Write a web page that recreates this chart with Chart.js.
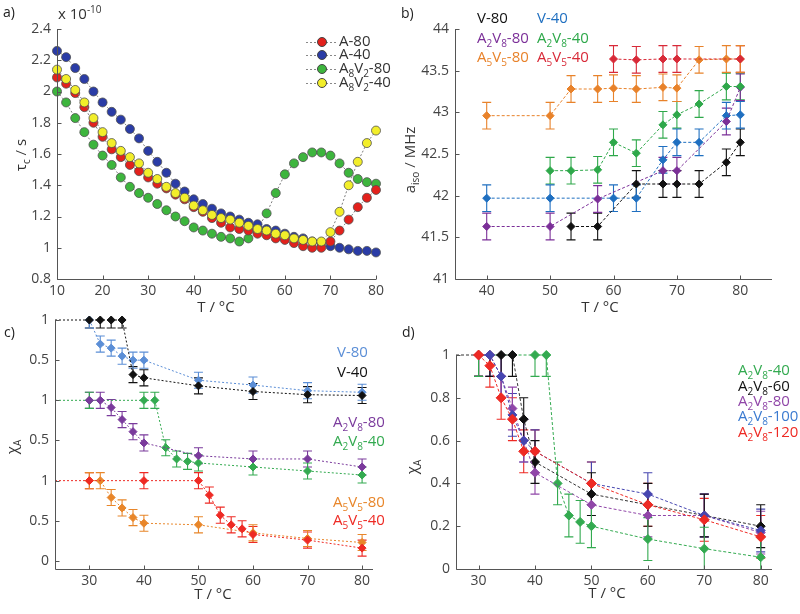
<!DOCTYPE html>
<html>
<head>
<meta charset="utf-8">
<script src="https://cdn.jsdelivr.net/npm/chart.js@4.4.1/dist/chart.umd.min.js"></script>
<style>
body { margin: 0; background: #fff; width: 800px; height: 614px; position: relative; overflow: hidden; }
canvas { position: absolute; top: 0; }
</style>
</head>
<body>
<canvas id="ca" width="400" height="614" style="left:0"></canvas>
<canvas id="cb" width="400" height="614" style="left:400px"></canvas>
<canvas id="cc" width="400" height="614" style="left:0"></canvas>
<canvas id="cd" width="400" height="614" style="left:400px"></canvas>
<script>
// ---- panel a: tau_c (x 1e-10 s) vs T
const aT = [10,12,14,16,18,20,22,24,26,28,30,32,34,36,38,40,42,44,46,48,50,52,54,56,58,60,62,64,66,68,70,72,74,76,78,80];
const aA80 = [2.09,2.05,1.99,1.90,1.80,1.71,1.63,1.58,1.53,1.49,1.45,1.41,1.38,1.34,1.31,1.26,1.23,1.19,1.16,1.13,1.12,1.11,1.09,1.08,1.06,1.05,1.03,1.01,1.00,1.00,1.04,1.11,1.18,1.26,1.32,1.37];
const aA40 = [2.26,2.22,2.15,2.08,2.00,1.93,1.87,1.82,1.76,1.70,1.62,1.55,1.48,1.41,1.36,1.31,1.28,1.25,1.22,1.20,1.18,1.16,1.15,1.12,1.11,1.09,1.07,1.06,1.04,1.03,1.01,1.00,0.99,0.98,0.98,0.97];
const aA8V2_80 = [2.00,1.93,1.83,1.74,1.66,1.59,1.53,1.45,1.39,1.35,1.32,1.28,1.24,1.20,1.17,1.13,1.11,1.09,1.07,1.06,1.04,1.06,1.12,1.22,1.35,1.47,1.54,1.58,1.61,1.61,1.59,1.54,1.48,1.44,1.42,1.41];
const aA8V2_40 = [2.14,2.08,2.01,1.93,1.83,1.74,1.67,1.62,1.58,1.54,1.48,1.44,1.39,1.35,1.32,1.27,1.24,1.21,1.19,1.18,1.16,1.14,1.12,1.11,1.09,1.08,1.06,1.05,1.04,1.04,1.10,1.23,1.40,1.55,1.67,1.75];
const aXTicks = [10,20,30,40,50,60,70,80];
const aYTicks = [0.8,1,1.2,1.4,1.6,1.8,2,2.2,2.4];

// ---- panel b: a_iso (MHz) vs T
const bV80T = [53.3,57.5,63.6,67.8,70,73.5,77.8,80];
const bV80 = [41.63,41.63,42.14,42.14,42.14,42.14,42.40,42.64];
const bV40T = [40,50,60,63.6,67.8,70,73.5,77.8,80];
const bV40 = [41.97,41.97,41.97,41.97,42.43,42.64,42.64,42.96,42.97];
const bA2V8_80T = [40,50,57.5,67.8,70,77.8,80];
const bA2V8_80 = [41.63,41.63,41.96,42.30,42.30,42.89,43.30];
const bA2V8_40T = [50,53.3,57.5,60,63.6,67.8,70,73.5,77.8,80];
const bA2V8_40 = [42.30,42.30,42.31,42.64,42.51,42.85,42.97,43.10,43.31,43.31];
const bA5V5_80T = [40,50,53.3,57.5,60,63.6,67.8,70,73.5,77.8,80];
const bA5V5_80 = [42.96,42.96,43.28,43.28,43.29,43.28,43.30,43.29,43.63,43.64,43.64];
const bA5V5_40T = [60,63.6,67.8,70,80];
const bA5V5_40 = [43.64,43.63,43.64,43.64,43.64];
const bErr = 0.16;
const bXTicks = [40,50,60,70,80];
const bYTicks = [41,41.5,42,42.5,43,43.5,44];

// ---- panel c: chi_A, three stacked groups
const cV80T = [30,32,34,36,38,40,50,60,70,80];
const cV80 = [1,0.70,0.65,0.55,0.50,0.50,0.25,0.19,0.12,0.10];
const cV40T = [30,32,34,36,38,40,50,60,70,80];
const cV40 = [1,1,1,1,0.32,0.28,0.18,0.11,0.07,0.06];
const cA2V8_80T = [30,32,34,36,38,40,50,60,70,80];
const cA2V8_80 = [1,1,0.91,0.76,0.61,0.47,0.31,0.27,0.27,0.17];
const cA2V8_40T = [30,40,42,44,46,48,50,60,70,80];
const cA2V8_40 = [1,1,1,0.41,0.27,0.24,0.22,0.17,0.12,0.07];
const cA5V5_80T = [30,32,34,36,38,40,50,60,70,80];
const cA5V5_80 = [1,1,0.79,0.66,0.54,0.47,0.45,0.35,0.28,0.23];
const cA5V5_40T = [30,40,50,52,54,56,58,60,70,80];
const cA5V5_40 = [1,1,1,0.82,0.57,0.45,0.40,0.33,0.26,0.16];
const cErr = 0.1;
const cXTicks = [30,40,50,60,70,80];
const cYTicks = [0,0.5,1,1.5,2,2.5,3];
const cYLabels = ['0','0.5','1','0.5','1','0.5','1'];

// ---- panel d: chi_A for A2V8 at different concentrations
const dT40 = [30,40,42,44,46,48,50,60,70,80];
const d40 = [1,1,1,0.40,0.25,0.22,0.20,0.14,0.095,0.055];
const dT60 = [30,32,34,36,38,40,50,60,70,80];
const d60 = [1,1,1,1,0.70,0.50,0.35,0.30,0.25,0.20];
const dT80 = [30,32,34,36,38,40,50,60,70,80];
const d80 = [1,1,0.90,0.75,0.60,0.45,0.30,0.25,0.25,0.17];
const dT100 = [30,32,34,36,38,40,50,60,70,80];
const d100 = [1,1,0.90,0.72,0.60,0.55,0.40,0.35,0.25,0.18];
const dT120 = [30,32,34,36,38,40,50,60,70,80];
const d120 = [1,0.95,0.80,0.70,0.55,0.55,0.40,0.30,0.23,0.15];
const dErr = 0.1;
const dXTicks = [30,40,50,60,70,80];
const dYTicks = [0,0.2,0.4,0.6,0.8,1];

const FONT = '"Open Sans", "DejaVu Sans", sans-serif';
Chart.defaults.font.family = FONT;
Chart.defaults.font.size = 14;
Chart.defaults.color = '#444';

// text with _x / _{..} subscripts and ^{..} superscripts
function parts(s) {
    const out = [];
    let buf = '', i = 0;
    while (i < s.length) {
        const c = s[i];
        if (c === '_' || c === '^') {
            if (buf) { out.push({ t: buf, k: 0 }); buf = ''; }
            let t;
            if (s[i + 1] === '{') { const j = s.indexOf('}', i); t = s.slice(i + 2, j); i = j + 1; }
            else { t = s[i + 1]; i += 2; }
            out.push({ t, k: c === '_' ? 1 : -1 });
        } else { buf += c; i++; }
    }
    if (buf) out.push({ t: buf, k: 0 });
    return out;
}

function drawRich(ctx, it) {
    const size = it.size || 15;
    const ps = parts(it.t);
    const font = k => `${k ? Math.round(size * 0.68) : size}px ${FONT}`;
    let w = 0;
    ps.forEach(p => { ctx.font = font(p.k); p.w = ctx.measureText(p.t).width; w += p.w; });
    ctx.save();
    ctx.translate(it.x, it.y);
    if (it.rot) ctx.rotate(-Math.PI / 2);
    let cx = it.align === 'center' ? -w / 2 : it.align === 'right' ? -w : 0;
    ctx.fillStyle = it.color || '#333';
    ctx.textBaseline = 'middle';
    ps.forEach(p => { ctx.font = font(p.k); ctx.fillText(p.t, cx, p.k * size * 0.33); cx += p.w; });
    ctx.restore();
}

function textPlugin(items) {
    return {
        id: 'texts',
        afterDraw(chart) {
            const ctx = chart.ctx;
            items.forEach(it => {
                if (it.mark) {
                    ctx.save();
                    ctx.strokeStyle = '#888'; ctx.lineWidth = 1; ctx.setLineDash([2, 2]);
                    ctx.beginPath(); ctx.moveTo(it.x1, it.y + 0.5); ctx.lineTo(it.x2, it.y + 0.5); ctx.stroke();
                    ctx.setLineDash([]);
                    ctx.fillStyle = it.mark; ctx.strokeStyle = '#444';
                    ctx.beginPath(); ctx.arc(it.mx, it.y, 4.5, 0, Math.PI * 2); ctx.fill(); ctx.stroke();
                    ctx.restore();
                }
                if (it.t) drawRich(ctx, it);
            });
        }
    };
}

// axis lines plus small inward ticks
const axesPlugin = {
    id: 'axesLines',
    afterDraw(chart) {
        const { ctx, chartArea: a, scales: { x, y } } = chart;
        ctx.save();
        ctx.strokeStyle = '#555'; ctx.lineWidth = 1;
        ctx.beginPath();
        const L = Math.round(a.left) + 0.5, B = Math.round(a.bottom) + 0.5;
        ctx.moveTo(L, Math.round(a.top)); ctx.lineTo(L, B); ctx.lineTo(Math.round(a.right), B);
        x.ticks.forEach(t => { const px = Math.round(x.getPixelForValue(t.value)) + 0.5; ctx.moveTo(px, B); ctx.lineTo(px, B - 4); });
        y.ticks.forEach(t => { const py = Math.round(y.getPixelForValue(t.value)) + 0.5; ctx.moveTo(L, py); ctx.lineTo(L + 4, py); });
        ctx.stroke();
        ctx.restore();
    }
};

// vertical error bars, cut off at the plot top like the original
const errorBars = {
    id: 'errorBars',
    beforeDatasetsDraw(chart) {
        const { ctx, chartArea: a, scales: { y } } = chart;
        chart.data.datasets.forEach((ds, i) => {
            if (!ds.err) return;
            const meta = chart.getDatasetMeta(i);
            ctx.save();
            ctx.beginPath();
            ctx.rect(a.left - 20, a.top - 0.5, a.right - a.left + 40, a.bottom - a.top + 1);
            ctx.clip();
            ctx.strokeStyle = ds.pointBackgroundColor; ctx.lineWidth = 1.1;
            ctx.beginPath();
            meta.data.forEach((el, j) => {
                if (ds.pointRadius[j] === 0) return;
                const v = ds.data[j].y;
                const y1 = y.getPixelForValue(v + ds.err), y2 = y.getPixelForValue(v - ds.err);
                ctx.moveTo(el.x, y1); ctx.lineTo(el.x, y2);
                ctx.moveTo(el.x - 4.5, y1); ctx.lineTo(el.x + 4.5, y1);
                ctx.moveTo(el.x - 4.5, y2); ctx.lineTo(el.x + 4.5, y2);
            });
            ctx.stroke();
            ctx.restore();
        });
    }
};

function ser(label, xs, ys, color, o = {}) {
    const off = o.off || 0;
    const pts = xs.map((x, i) => ({ x, y: ys[i] + off }));
    const rad = pts.map(() => o.r || 4);
    if (o.lead != null) { pts.unshift({ x: o.lead, y: ys[0] + off }); rad.unshift(0); }
    return {
        label, data: pts, err: o.err,
        borderColor: o.line || color, borderWidth: 1, borderDash: o.dash || [3, 2],
        pointStyle: o.style || 'rectRot', pointRadius: rad, pointHoverRadius: 0,
        pointBackgroundColor: color, pointBorderColor: o.edge || color, pointBorderWidth: o.edgeW || 1,
        tension: 0, fill: false, clip: false
    };
}

function panel(id, area, xr, yr, datasets, items, ylab) {
    return new Chart(document.getElementById(id), {
        type: 'line',
        data: { datasets },
        options: {
            responsive: false, animation: false,
            layout: { padding: { left: 0, top: area.t, right: 400 - area.r, bottom: 614 - area.b - 30 } },
            plugins: { legend: { display: false }, tooltip: { enabled: false } },
            scales: {
                x: {
                    type: 'linear', min: xr.min, max: xr.max,
                    grid: { display: false, drawTicks: false }, border: { display: false },
                    ticks: { padding: 4, maxRotation: 0, autoSkip: false, callback: v => String(v) },
                    afterBuildTicks: s => { s.ticks = xr.ticks.map(v => ({ value: v })); },
                    afterFit: s => { s.height = 30; }
                },
                y: {
                    type: 'linear', min: yr.min, max: yr.max,
                    grid: { display: false, drawTicks: false }, border: { display: false },
                    ticks: { padding: 6, autoSkip: false, callback: ylab || (v => String(v)) },
                    afterBuildTicks: s => { s.ticks = yr.ticks.map(v => ({ value: v })); },
                    afterFit: s => { s.width = area.l; }
                }
            }
        },
        plugins: [axesPlugin, errorBars, textPlugin(items)]
    });
}

// panel a
const circ = (label, ys, color) => ser(label, aT, ys, color,
    { style: 'circle', r: 4.5, line: '#7d7d7d', dash: [2, 2], edge: '#505050', edgeW: 0.8 });
panel('ca', { l: 57, r: 376, t: 29, b: 279 }, { min: 10, max: 80, ticks: aXTicks }, { min: 0.8, max: 2.4, ticks: aYTicks }, [
    circ('A8V2-40', aA8V2_40, '#f2ee2a'),
    circ('A-80', aA80, '#e3211c'),
    circ('A-40', aA40, '#2a3ca6'),
    circ('A8V2-80', aA8V2_80, '#3db53d')
], [
    { t: 'a)', x: 3, y: 13, size: 14, color: '#222' },
    { t: 'x 10^{-10}', x: 58, y: 15, size: 15, color: '#333' },
    { t: 'τ_c / s', x: 22, y: 155, size: 15, rot: true, align: 'center', color: '#333' },
    { t: 'T / °C', x: 216, y: 308, size: 15, align: 'center', color: '#333' },
    { mark: '#e3211c', mx: 322, x1: 306, x2: 337, y: 42, t: 'A-80', x: 339, size: 15 },
    { mark: '#2a3ca6', mx: 322, x1: 306, x2: 337, y: 55, t: 'A-40', x: 339, size: 15 },
    { mark: '#3db53d', mx: 322, x1: 306, x2: 337, y: 69, t: 'A_8V_2-80', x: 339, size: 15 },
    { mark: '#f2ee2a', mx: 322, x1: 306, x2: 337, y: 83, t: 'A_8V_2-40', x: 339, size: 15 }
]);

// panel b
const bC = { k: '#111111', b: '#1f6fc0', p: '#7b2f98', g: '#2ea84a', o: '#e8822a', r: '#d82a38' };
panel('cb', { l: 55, r: 372, t: 29, b: 279 }, { min: 35, max: 85, ticks: bXTicks }, { min: 41, max: 44, ticks: bYTicks }, [
    ser('A5V5-40', bA5V5_40T, bA5V5_40, bC.r, { err: bErr }),
    ser('V-80', bV80T, bV80, bC.k, { err: bErr }),
    ser('A2V8-40', bA2V8_40T, bA2V8_40, bC.g, { err: bErr }),
    ser('A2V8-80', bA2V8_80T, bA2V8_80, bC.p, { err: bErr }),
    ser('V-40', bV40T, bV40, bC.b, { err: bErr }),
    ser('A5V5-80', bA5V5_80T, bA5V5_80, bC.o, { err: bErr })
], [
    { t: 'b)', x: 1, y: 14, size: 14, color: '#222' },
    { t: 'a_{iso} / MHz', x: 11, y: 160, size: 15, rot: true, align: 'center', color: '#333' },
    { t: 'T / °C', x: 200, y: 308, size: 15, align: 'center', color: '#333' },
    { t: 'V-80', x: 77, y: 19, color: bC.k },
    { t: 'V-40', x: 137, y: 19, color: bC.b },
    { t: 'A_2V_8-80', x: 77, y: 39, color: bC.p },
    { t: 'A_2V_8-40', x: 137, y: 39, color: bC.g },
    { t: 'A_5V_5-80', x: 77, y: 58, color: bC.o },
    { t: 'A_5V_5-40', x: 137, y: 58, color: bC.r }
]);

// panel c (groups shifted by 2, 1, 0 on one axis)
const cC = { v8: '#5b8ed6', v4: '#111111', p: '#7a3a9c', g: '#33aa50', o: '#e8862a', r: '#ee2a24' };
panel('cc', { l: 55, r: 373, t: 320, b: 569 }, { min: 23.7, max: 82, ticks: cXTicks }, { min: -0.1, max: 3, ticks: cYTicks }, [
    ser('V-40', cV40T, cV40, cC.v4, { err: cErr, off: 2, lead: 23.7, dash: [2, 2] }),
    ser('V-80', cV80T, cV80, cC.v8, { err: cErr, off: 2, dash: [2, 2] }),
    ser('A2V8-80', cA2V8_80T, cA2V8_80, cC.p, { err: cErr, off: 1, dash: [2, 2] }),
    ser('A2V8-40', cA2V8_40T, cA2V8_40, cC.g, { err: cErr, off: 1, lead: 23.7, dash: [2, 2] }),
    ser('A5V5-40', cA5V5_40T, cA5V5_40, cC.r, { err: cErr, lead: 23.7, dash: [2, 2] }),
    ser('A5V5-80', cA5V5_80T, cA5V5_80, cC.o, { err: cErr, dash: [2, 2] })
], [
    { t: 'c)', x: 4, y: 333, size: 14, color: '#222' },
    { t: 'χ_A', x: 13, y: 447, size: 15, rot: true, align: 'center', color: '#333' },
    { t: 'T / °C', x: 213, y: 595, size: 15, align: 'center', color: '#333' },
    { t: 'V-80', x: 337, y: 353, color: cC.v8 },
    { t: 'V-40', x: 337, y: 373, color: cC.v4 },
    { t: 'A_2V_8-80', x: 333, y: 423, color: cC.p },
    { t: 'A_2V_8-40', x: 333, y: 442, color: cC.g },
    { t: 'A_5V_5-80', x: 333, y: 503, color: cC.o },
    { t: 'A_5V_5-40', x: 333, y: 521, color: cC.r }
], (v, i) => cYLabels[i]);

// panel d
const dC = { g: '#33aa50', k: '#111111', p: '#9046a8', b: '#4646b0', bl: '#3a7ad0', r: '#ee2a24' };
panel('cd', { l: 56, r: 372, t: 355, b: 569 }, { min: 26, max: 82, ticks: dXTicks }, { min: 0, max: 1, ticks: dYTicks }, [
    ser('A2V8-120', dT120, d120, dC.r, { err: dErr, r: 5 }),
    ser('A2V8-100', dT100, d100, dC.b, { err: dErr, r: 4.5 }),
    ser('A2V8-80', dT80, d80, dC.p, { err: dErr, r: 4.5 }),
    ser('A2V8-60', dT60, d60, dC.k, { err: dErr, r: 4.5, lead: 26, line: '#333' }),
    ser('A2V8-40', dT40, d40, dC.g, { err: dErr, r: 4.5 })
], [
    { t: 'd)', x: 2, y: 333, size: 14, color: '#222' },
    { t: 'χ_A', x: 13, y: 467, size: 15, rot: true, align: 'center', color: '#333' },
    { t: 'T / °C', x: 207, y: 594, size: 15, align: 'center', color: '#333' },
    { t: 'A_2V_8-40', x: 338, y: 371, color: dC.g },
    { t: 'A_2V_8-60', x: 338, y: 387, color: dC.k },
    { t: 'A_2V_8-80', x: 338, y: 402, color: dC.p },
    { t: 'A_2V_8-100', x: 338, y: 417, color: dC.bl },
    { t: 'A_2V_8-120', x: 338, y: 433, color: dC.r }
]);
</script>
</body>
</html>
